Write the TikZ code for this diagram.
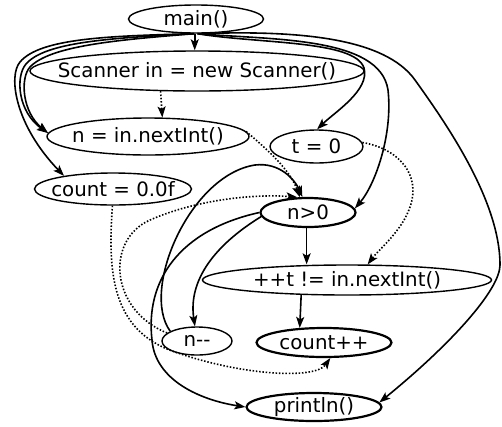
\documentclass[tikz,border=0pt]{standalone}
\usepackage{fontspec}
\setmainfont{DejaVu Sans}
\usetikzlibrary{shapes.geometric,arrows.meta}

\tikzset{
  stmt/.style={draw, ellipse, inner sep=0pt, line width=1.4pt,
    font=\fontsize{19.8}{23}\selectfont},
  hot/.style={line width=2.2pt},
  ctrl/.style={draw, line width=1.6pt,
    -{Stealth[length=11pt, width=8pt, inset=2.5pt]}},
  data/.style={ctrl, dash pattern=on 1.5pt off 1.8pt},
}
\newcommand{\lbl}[1]{\makebox[0pt]{#1}}

\begin{document}
\begin{tikzpicture}[x=1pt, y=-1pt]
\useasboundingbox (0,0) rectangle (502,426);

% statements
\node[stmt, minimum width=135pt, minimum height=28pt] (main) at (196,19) {\lbl{main()}};
\node[stmt, minimum width=334pt, minimum height=40pt] (scan) at (197,71) {\lbl{Scanner in = new Scanner()}};
\node[stmt, minimum width=202pt, minimum height=37pt] (nin)  at (148,136.5) {\lbl{n = in.nextInt()}};
\node[stmt, minimum width=93pt,  minimum height=33pt] (t0)   at (316.5,146.5) {\lbl{t = 0}};
\node[stmt, minimum width=157pt, minimum height=32pt] (cnt)  at (113,189) {\lbl{count = 0.0f}};
\node[stmt, hot, minimum width=95pt, minimum height=29pt] (gt) at (308,212.5) {\lbl{n>0}};
\node[stmt, minimum width=289pt, minimum height=30pt] (inc)  at (347,280) {\lbl{++t != in.nextInt()}};
\node[stmt, minimum width=70pt,  minimum height=28pt] (dec)  at (197,341) {\lbl{n-{}-}};
\node[stmt, hot, minimum width=135pt, minimum height=29pt] (cpp) at (324,342.5) {\lbl{count++}};
\node[stmt, hot, minimum width=135pt, minimum height=28pt] (pr)  at (314,407) {\lbl{println()}};

% control edges from main()
\draw[ctrl] (main.-95) -- (main.-95 |- scan.north);
\draw[ctrl] (main.-100) .. controls (110,36) and (40,38) .. (20,62)
  .. controls (8,76) and (15,125) .. (cnt.165);
\draw[ctrl] (main.-98) .. controls (110,38) and (45,42) .. (26,64)
  .. controls (15,77) and (18,112) .. (nin.178);
\draw[ctrl] (main.-96) .. controls (115,40) and (50,46) .. (30,67)
  .. controls (20,78) and (22,112) .. (nin.178);
\draw[ctrl] (main.-85) .. controls (260,44) and (355,40) .. (364,68)
  .. controls (370,90) and (335,112) .. (t0.88);
\draw[ctrl] (main.-83) .. controls (270,40) and (380,36) .. (388,90)
  .. controls (393,135) and (375,185) .. (gt.5);
\draw[ctrl] (main.-80) .. controls (300,30) and (385,38) .. (415,80)
  .. controls (445,122) and (500,200) .. (500,265)
  .. controls (500,290) and (450,345) .. (pr.4);

% control edges inside the loop
\draw[ctrl] (gt.-95) -- (gt.-95 |- inc.north);
\draw[ctrl] (inc.198) -- (cpp.149);
\draw[ctrl] (gt.185) .. controls (215,245) and (188,280) .. (dec.98);
\draw[ctrl] (gt.180) .. controls (180,230) and (145,280) .. (152,340)
  .. controls (155,380) and (200,400) .. (pr.west);
\draw[ctrl] (dec.160) .. controls (140,290) and (190,175) .. (255,165)
  .. controls (280,162) and (295,180) .. (gt.110);

% data edges
\draw[data] (scan.-151) -- (nin.53);
\draw[data] (nin.3) .. controls (268,150) and (290,170) .. (gt.118);
\draw[data] (t0.5) .. controls (395,148) and (418,170) .. (412,200)
  .. controls (406,228) and (380,248) .. (inc.37);
\draw[data] (cnt.-92) .. controls (108,270) and (110,330) .. (175,352)
  .. controls (240,375) and (315,380) .. (cpp.-68);
\draw[data] (dec.165) .. controls (110,310) and (105,240) .. (150,220)
  .. controls (200,198) and (260,194) .. (gt.125);
\end{tikzpicture}
\end{document}
